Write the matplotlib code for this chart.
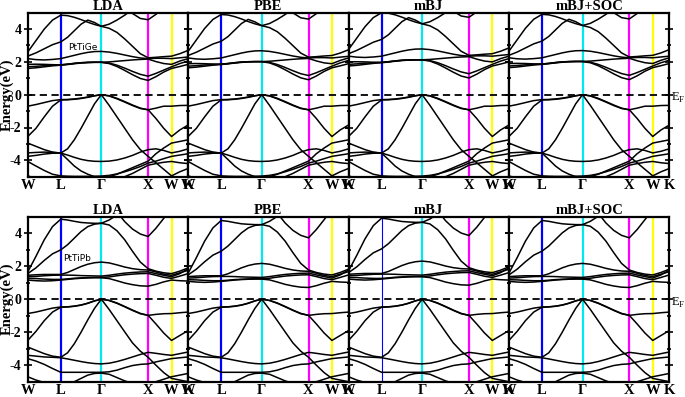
import numpy as np
import matplotlib
matplotlib.use("Agg")
import matplotlib.pyplot as plt

### DATA ###

# high-symmetry path W-L-G-X-W-K (segment lengths in 2pi/a) and samples per segment
kpath_labels = ["W", "L", "\u0393", "X", "W", "K"]
seg_len = [0.707, 0.866, 1.0, 0.5, 0.354]
seg_n = [5, 7, 7, 4, 3]
line_colors = ["#0000ff", "#00e8f0", "#ff00ff", "#ffff00"]  # L, G, X, W

methods = ["LDA", "PBE", "mBJ", "mBJ+SOC"]
compounds = ["PtTiGe", "PtTiPb"]

# PtTiGe bands (eV), 22 k-samples: W..L..G..X..W..K
ge_vb = [
    [-0.70, -0.60, -0.48, -0.36, -0.30, -0.29, -0.26, -0.21, -0.14, -0.06, 0.00, -0.08, -0.25, -0.45, -0.66, -0.84, -0.92, -0.82, -0.70, -0.70, -0.66, -0.65],
    [-2.55, -2.05, -1.35, -0.70, -0.32, -0.31, -0.28, -0.23, -0.16, -0.07, 0.00, -0.06, -0.22, -0.42, -0.63, -0.82, -0.92, -1.45, -2.05, -2.55, -2.15, -1.85],
    [-2.95, -3.15, -3.35, -3.50, -3.56, -3.30, -2.75, -2.05, -1.30, -0.55, 0.00, -0.65, -1.35, -2.05, -2.75, -3.35, -3.76, -4.15, -4.55, -4.95, -4.70, -4.50],
    [-3.76, -3.70, -3.62, -3.57, -3.56, -3.68, -3.82, -3.94, -4.02, -4.06, -4.07, -4.05, -3.98, -3.86, -3.70, -3.50, -3.35, -3.30, -3.40, -3.55, -3.45, -3.30],
    [-4.07, -4.35, -4.62, -4.85, -4.95, -4.97, -4.98, -4.98, -4.98, -4.97, -4.96, -4.92, -4.83, -4.70, -4.55, -4.38, -4.17, -4.05, -3.90, -3.76, -3.68, -3.60],
    [-3.55, -3.52, -3.50, -3.52, -3.56, -3.95, -4.35, -4.65, -4.85, -5.00, -5.10, -5.00, -4.85, -4.65, -4.45, -4.25, -4.05, -3.60, -3.25, -2.95, -2.85, -2.75],
    [-4.95, -5.10, -5.20, -5.20, -5.20, -5.20, -5.20, -5.20, -5.20, -5.20, -5.20, -5.20, -5.10, -5.00, -4.80, -4.55, -4.30, -4.20, -4.12, -4.07, -4.15, -4.20],
]
ge_cb = [
    [1.60, 1.64, 1.70, 1.76, 1.80, 1.84, 1.89, 1.93, 1.96, 1.97, 1.97, 1.90, 1.72, 1.48, 1.22, 0.99, 0.87, 1.10, 1.38, 1.60, 1.72, 1.85],
    [1.70, 1.73, 1.77, 1.80, 1.82, 1.86, 1.91, 1.95, 1.97, 1.98, 1.98, 1.93, 1.80, 1.62, 1.42, 1.24, 1.13, 1.30, 1.50, 1.70, 1.90, 2.05],
    [1.85, 1.86, 1.85, 1.83, 1.82, 1.86, 1.91, 1.95, 1.97, 1.98, 1.98, 2.00, 2.04, 2.08, 2.12, 2.15, 2.17, 2.02, 1.90, 1.85, 2.05, 2.20],
    [2.20, 2.14, 2.12, 2.15, 2.20, 2.30, 2.40, 2.50, 2.58, 2.63, 2.64, 2.60, 2.52, 2.42, 2.32, 2.24, 2.20, 2.22, 2.22, 2.20, 2.25, 2.30],
    [2.35, 2.55, 2.80, 3.05, 3.22, 3.50, 3.90, 4.30, 4.55, 4.40, 4.17, 4.05, 3.80, 3.40, 2.95, 2.50, 2.25, 2.28, 2.32, 2.35, 2.50, 2.70],
    [2.60, 3.30, 4.00, 4.55, 4.85, 4.82, 4.72, 4.58, 4.42, 4.28, 4.17, 4.30, 4.55, 4.85, 5.20, 5.50, 5.70, 5.70, 5.70, 5.70, 5.70, 5.70],
    [5.60, 5.60, 5.60, 5.60, 5.60, 5.60, 5.60, 5.60, 5.60, 5.60, 5.80, 5.70, 5.60, 5.40, 4.95, 4.65, 4.57, 4.90, 5.30, 5.60, 5.60, 5.60],
]

# PtTiPb bands
pb_vb = [
    [-0.87, -0.78, -0.66, -0.54, -0.47, -0.46, -0.42, -0.35, -0.24, -0.10, 0.00, -0.08, -0.25, -0.46, -0.68, -0.88, -0.98, -0.92, -0.88, -0.87, -0.82, -0.78],
    [-2.50, -1.95, -1.30, -0.78, -0.49, -0.47, -0.43, -0.36, -0.25, -0.10, 0.00, -0.07, -0.23, -0.44, -0.66, -0.86, -0.98, -1.50, -2.05, -2.50, -2.20, -1.90],
    [-2.90, -3.10, -3.30, -3.45, -3.52, -3.25, -2.70, -2.00, -1.25, -0.55, 0.00, -0.62, -1.30, -1.98, -2.65, -3.15, -3.52, -4.00, -4.45, -4.80, -4.90, -5.00],
    [-3.40, -3.45, -3.50, -3.52, -3.55, -3.62, -3.70, -3.78, -3.85, -3.90, -3.92, -3.88, -3.78, -3.65, -3.50, -3.35, -3.22, -3.28, -3.35, -3.40, -3.30, -3.20],
    [-3.60, -3.75, -3.95, -4.20, -4.43, -4.43, -4.43, -4.43, -4.43, -4.43, -4.43, -4.40, -4.30, -4.15, -4.02, -3.95, -3.92, -3.80, -3.70, -3.60, -3.55, -3.50],
    [-4.70, -4.90, -5.05, -5.10, -5.10, -5.10, -5.00, -4.80, -4.60, -4.50, -4.48, -4.55, -4.75, -4.95, -5.10, -5.10, -5.10, -5.00, -4.85, -4.70, -4.60, -4.50],
]
pb_cb = [
    [1.16, 1.12, 1.10, 1.12, 1.16, 1.20, 1.24, 1.27, 1.29, 1.30, 1.30, 1.25, 1.12, 0.98, 0.88, 0.81, 0.79, 0.90, 1.05, 1.16, 1.12, 1.10],
    [1.26, 1.25, 1.22, 1.20, 1.20, 1.23, 1.27, 1.29, 1.31, 1.32, 1.32, 1.35, 1.42, 1.48, 1.52, 1.55, 1.56, 1.45, 1.33, 1.26, 1.40, 1.55],
    [1.36, 1.38, 1.42, 1.45, 1.46, 1.46, 1.45, 1.43, 1.42, 1.41, 1.40, 1.45, 1.52, 1.58, 1.62, 1.65, 1.66, 1.55, 1.45, 1.36, 1.55, 1.85],
    [1.45, 1.48, 1.50, 1.50, 1.50, 1.62, 1.80, 1.98, 2.12, 2.21, 2.25, 2.20, 2.08, 1.95, 1.85, 1.79, 1.77, 1.65, 1.52, 1.45, 1.60, 1.75],
    [1.55, 1.90, 2.35, 2.75, 2.99, 3.30, 3.70, 4.10, 4.40, 4.55, 4.60, 4.50, 4.15, 3.60, 2.90, 2.25, 1.85, 1.70, 1.60, 1.55, 1.70, 1.90],
    [1.65, 2.60, 3.60, 4.40, 4.85, 4.80, 4.72, 4.65, 4.62, 4.60, 4.60, 4.80, 5.10, 5.40, 5.60, 5.60, 5.60, 5.60, 5.60, 5.60, 5.60, 5.60],
    [5.60, 5.60, 5.60, 5.60, 5.60, 5.60, 5.60, 5.60, 5.60, 5.60, 5.60, 5.60, 5.30, 4.70, 4.25, 3.95, 3.80, 4.30, 4.90, 5.50, 5.50, 5.50],
]

# conduction band offset of each functional relative to LDA (read at X)
ge_cb_shift = [0.00, 0.04, 0.15, 0.05]
pb_cb_shift = [0.00, -0.08, 0.06, -0.08]

### K POINTS ###

nodes = np.concatenate([[0.0], np.cumsum(seg_len)])
kpts = []
for i in range(len(seg_len)):
    pts = np.linspace(nodes[i], nodes[i + 1], seg_n[i])
    if i > 0:
        pts = pts[1:]
    kpts.extend(pts)
kpts = np.array(kpts)

### PLOT ###

serif = "Liberation Serif"
fig = plt.figure(figsize=(6.85, 3.97), dpi=100)

W_px, H_px = 685.0, 397.0
panel_w = 160.4
rows = [(12.7, 176.7), (216.7, 381.7)]
data = [(ge_vb, ge_cb, ge_cb_shift), (pb_vb, pb_cb, pb_cb_shift)]

for r, (top, bot) in enumerate(rows):
    vb, cb, shifts = data[r]
    for c in range(4):
        left = 27.7 + c * panel_w
        ax = fig.add_axes([left / W_px, 1 - bot / H_px, panel_w / W_px, (bot - top) / H_px])

        for band in vb:
            ax.plot(kpts, band, color="black", lw=1.1, zorder=3)
        for band in cb:
            ax.plot(kpts, np.array(band) + shifts[c], color="black", lw=1.1, zorder=3)

        # symmetry lines (the L line of the lower mBJ panel is thinner)
        lw_L = 0.8 if (r == 1 and c == 2) else 1.6
        for j, col in enumerate(line_colors):
            ax.axvline(nodes[j + 1], color=col, lw=lw_L if j == 0 else 1.6, zorder=2)

        ax.axhline(0, color="black", lw=1.3, linestyle=(0, (4, 2.5)), zorder=4)

        ax.set_xlim(nodes[0], nodes[-1])
        ax.set_ylim(-5, 5)
        ax.set_xticks(nodes)
        ax.set_xticklabels(kpath_labels, fontfamily=serif, fontweight="bold", fontsize=10.5)
        ax.tick_params(axis="x", length=0, pad=2)
        ax.set_yticks([-4, -2, 0, 2, 4])
        ax.set_yticks([-3, -1, 1, 3], minor=True)
        ax.tick_params(axis="y", which="both", direction="inout", left=True, right=True, width=1.2)
        ax.tick_params(axis="y", which="major", length=6, pad=1.5)
        ax.tick_params(axis="y", which="minor", length=3.5)
        if c == 0:
            ax.set_yticklabels(["-4", "-2", "0", "2", "4"], fontfamily=serif, fontweight="bold", fontsize=10)
            ax.set_ylabel("Energy(eV)", fontfamily=serif, fontweight="bold", fontsize=10.5)
            ax.yaxis.set_label_coords(-0.085, 0.5)
            ax.text(nodes[1] + (0.15 if r == 0 else 0.06), 2.9 if r == 0 else 2.44, compounds[r],
                    fontsize=6.5, ha="left", va="center", zorder=5)
        else:
            ax.set_yticklabels([])
        if c == 3:
            ax.text(1.008, 0.48, "E$_\\mathregular{F}$", transform=ax.transAxes, fontfamily=serif,
                    fontsize=9, ha="left", va="center")
        for sp in ax.spines.values():
            sp.set_linewidth(1.6)
        ax.set_title(methods[c], fontfamily=serif, fontweight="bold", fontsize=10.5, pad=1.5)

plt.savefig("out.png", dpi=100)
